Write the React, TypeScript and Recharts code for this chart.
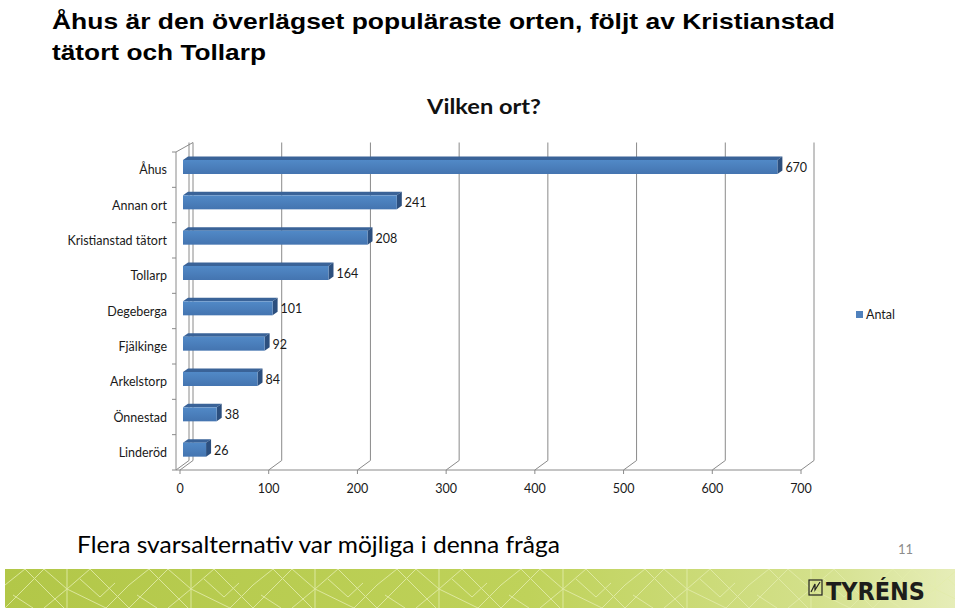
import React from 'react';
import { BarChart, Bar, XAxis, YAxis, CartesianGrid, LabelList, Legend } from 'recharts';

// ---- data ----
const categories = [
  'Åhus',
  'Annan ort',
  'Kristianstad tätort',
  'Tollarp',
  'Degeberga',
  'Fjälkinge',
  'Arkelstorp',
  'Önnestad',
  'Linderöd',
];
const antal = [670, 241, 208, 164, 101, 92, 84, 38, 26];
const xTicks = [0, 100, 200, 300, 400, 500, 600, 700];
const seriesName = 'Antal';

const titleLines = [
  'Åhus är den överlägset populäraste orten, följt av Kristianstad',
  'tätort och Tollarp',
];
const chartTitle = 'Vilken ort?';
const footnote = 'Flera svarsalternativ var möjliga i denna fråga';
const pageNumber = '11';
const brand = 'TYRÉNS';

const data = categories.map((name, i) => ({ name, [seriesName]: antal[i] }));

// ---- layout / style ----
const CHART_W = 960;
const CHART_H = 520;
const PLOT_TOP = 152;
const PLOT_BOTTOM = 470;
const PLOT_LEFT = 176;
const PLOT_RIGHT = 801;
const Y_AXIS_W = 170;
const X_AXIS_H = 30;
const X_PAD = 4;
const DEPTH_X = 13;
const DEPTH_Y = 9.5;
const BAND = (PLOT_BOTTOM - PLOT_TOP) / categories.length;
const GRID = '#8a8a8a';
const FONT = 'Lato, "Open Sans", sans-serif';
const TEXT = '#1a1a1a';
const BLUE = '#4F81BD';
const TICK_FS = 12.5;

const backWallLine = (props: any) => {
  const { x1, y1, y2, index } = props;
  return (
    <path
      key={`wall-${index}-${x1}`}
      d={`M${x1},${y2} L${x1 + DEPTH_X},${y2 - DEPTH_Y} L${x1 + DEPTH_X},${y1 - DEPTH_Y}`}
      fill="none"
      stroke={GRID}
      strokeWidth={1}
    />
  );
};

const Bar3D = (props: any) => {
  const { x, y, width, height } = props;
  if (width == null || height == null) return null;
  const fx = x + 3;
  const fy = y - 3;
  const fw = Math.max(width, 0);
  const fh = height;
  const dx = 5;
  const dy = 3.5;
  return (
    <g>
      <polygon
        points={`${fx},${fy} ${fx + fw},${fy} ${fx + fw + dx},${fy - dy} ${fx + dx},${fy - dy}`}
        fill="#3A6398"
      />
      <polygon
        points={`${fx + fw},${fy} ${fx + fw + dx},${fy - dy} ${fx + fw + dx},${fy + fh - dy} ${fx + fw},${fy + fh}`}
        fill="#2C4F7E"
      />
      <rect x={fx} y={fy} width={fw} height={fh} fill="url(#barFront)" />
    </g>
  );
};

const ValueLabel = (props: any) => {
  const vb = props.viewBox || {};
  const x = props.x ?? vb.x;
  const y = props.y ?? vb.y;
  const width = props.width ?? vb.width;
  const height = props.height ?? vb.height;
  return (
    <text
      x={x + width + 11}
      y={y + height / 2 - 2.5}
      dominantBaseline="central"
      textAnchor="start"
      fontFamily={FONT}
      fontSize={TICK_FS}
      fill={TEXT}
    >
      {props.value}
    </text>
  );
};

const CategoryTick = (props: any) => {
  const { x, y, payload, index } = props;
  const top = y - BAND / 2;
  const bottom = y + BAND / 2;
  return (
    <g>
      <line x1={PLOT_LEFT - 4} x2={PLOT_LEFT} y1={top} y2={top} stroke={GRID} />
      {index === categories.length - 1 && (
        <line x1={PLOT_LEFT - 4} x2={PLOT_LEFT} y1={bottom} y2={bottom} stroke={GRID} />
      )}
      {index === 0 && (
        <line
          x1={PLOT_LEFT}
          y1={top}
          x2={PLOT_LEFT + X_PAD + DEPTH_X}
          y2={top - DEPTH_Y}
          stroke={GRID}
        />
      )}
      <text
        x={x}
        y={y}
        textAnchor="end"
        dominantBaseline="central"
        fontFamily={FONT}
        fontSize={TICK_FS}
        fill={TEXT}
      >
        {payload.value}
      </text>
    </g>
  );
};

const ValueTick = (props: any) => {
  const { x, y, payload } = props;
  return (
    <text
      x={x}
      y={y + 14}
      textAnchor="middle"
      dominantBaseline="central"
      fontFamily={FONT}
      fontSize={TICK_FS}
      fill={TEXT}
    >
      {payload.value}
    </text>
  );
};

const LegendContent = () => (
  <div
    style={{
      display: 'flex',
      alignItems: 'center',
      fontFamily: FONT,
      fontSize: TICK_FS,
      color: TEXT,
      whiteSpace: 'nowrap',
      height: 16,
    }}
  >
    <span style={{ display: 'inline-block', width: 7, height: 7, background: BLUE, marginRight: 3 }} />
    <span>{seriesName}</span>
  </div>
);

const Banner = () => {
  const x0 = 5;
  const y0 = 569;
  const w = 950;
  const h = 39;
  return (
    <g>
      <defs>
        <linearGradient id="bannerGrad" x1="0" y1="0" x2="1" y2="0">
          <stop offset="0" stopColor="#b2c748" />
          <stop offset="0.55" stopColor="#bfd25a" />
          <stop offset="0.85" stopColor="#d3e08a" />
          <stop offset="1" stopColor="#e6edb8" />
        </linearGradient>
        <pattern id="bannerPat" x={x0} y={y0} width={124} height={h} patternUnits="userSpaceOnUse">
          <g stroke="#e3ecaa" strokeWidth={1} fill="none" opacity={0.85}>
            <path d={`M0,${h} L39,0`} />
            <path d={`M20,0 L59,${h}`} />
            <path d={`M39,0 L62,20 L39,${h}`} />
            <path d={`M62,0 L62,${h}`} />
            <path d={`M62,20 L85,0`} />
            <path d={`M62,20 L101,${h}`} />
            <path d={`M85,0 L124,${h}`} />
            <path d={`M101,${h} L124,16`} />
            <path d={`M0,16 L20,0`} />
            <path d={`M8,26 L28,${h}`} />
            <path d={`M75,10 L95,28 L110,14`} />
          </g>
        </pattern>
      </defs>
      <rect x={x0} y={y0} width={w} height={h} fill="url(#bannerGrad)" />
      <rect x={x0} y={y0} width={w} height={h} fill="url(#bannerPat)" />
      <g>
        <rect x={809} y={580} width={13} height={15} fill="none" stroke="#222" strokeWidth={1.2} />
        <path d="M811,592 L815,584 L815,590 L820,582" fill="none" stroke="#222" strokeWidth={1.2} />
        <text
          x={826}
          y={600}
          fontFamily='"DejaVu Sans", sans-serif'
          fontWeight={900}
          fontSize={25}
          fill="#1d1d1b"
          textLength={99}
          lengthAdjust="spacingAndGlyphs"
        >
          {brand}
        </text>
      </g>
    </g>
  );
};

export default function App() {
  return (
    <div
      style={{
        position: 'absolute',
        left: 0,
        top: 0,
        width: CHART_W,
        height: 610,
        background: '#ffffff',
        overflow: 'hidden',
      }}
    >
      <div style={{ position: 'absolute', left: 0, top: 0 }}>
        <BarChart
          width={CHART_W}
          height={CHART_H}
          data={data}
          layout="vertical"
          margin={{
            top: PLOT_TOP,
            left: PLOT_LEFT - Y_AXIS_W,
            right: CHART_W - PLOT_RIGHT,
            bottom: CHART_H - PLOT_BOTTOM - X_AXIS_H,
          }}
        >
          <defs>
            <linearGradient id="barFront" x1="0" y1="0" x2="0" y2="1">
              <stop offset="0" stopColor="#5189c7" />
              <stop offset="1" stopColor="#4474b0" />
            </linearGradient>
          </defs>
          <CartesianGrid horizontal={false} vertical={backWallLine} />
          <XAxis
            type="number"
            domain={[0, 700]}
            ticks={xTicks}
            interval={0}
            height={X_AXIS_H}
            padding={{ left: X_PAD, right: 0 }}
            axisLine={{ stroke: GRID }}
            tickLine={{ stroke: GRID }}
            tickSize={4}
            tickMargin={0}
            tick={ValueTick}
          />
          <YAxis
            type="category"
            dataKey="name"
            width={Y_AXIS_W}
            interval={0}
            axisLine={{ stroke: GRID }}
            tickLine={false}
            tickSize={0}
            tickMargin={9}
            tick={CategoryTick}
          />
          <Legend
            layout="horizontal"
            verticalAlign="middle"
            align="center"
            wrapperStyle={{ left: 856, top: 306, right: 'auto', bottom: 'auto', width: 60, height: 16 }}
            content={LegendContent}
          />
          <Bar
            dataKey={seriesName}
            name={seriesName}
            fill={BLUE}
            barSize={14}
            isAnimationActive={false}
            shape={Bar3D}
          >
            <LabelList dataKey={seriesName} content={ValueLabel} />
          </Bar>
        </BarChart>
      </div>
      <svg
        width={CHART_W}
        height={610}
        style={{ position: 'absolute', left: 0, top: 0, pointerEvents: 'none' }}
      >
        <text
          x={52}
          y={29}
          fontFamily='"Liberation Sans", Arial, sans-serif'
          fontWeight={700}
          fontSize={22}
          fill="#000"
          textLength={783}
          lengthAdjust="spacingAndGlyphs"
        >
          {titleLines[0]}
        </text>
        <text
          x={52}
          y={60}
          fontFamily='"Liberation Sans", Arial, sans-serif'
          fontWeight={700}
          fontSize={22}
          fill="#000"
          textLength={214}
          lengthAdjust="spacingAndGlyphs"
        >
          {titleLines[1]}
        </text>
        <text
          x={427}
          y={114}
          fontFamily={FONT}
          fontWeight={700}
          fontSize={20}
          fill="#111"
          textLength={114}
          lengthAdjust="spacingAndGlyphs"
        >
          {chartTitle}
        </text>
        <text
          x={77}
          y={553}
          fontFamily={FONT}
          fontSize={23}
          fill="#000"
          textLength={483}
          lengthAdjust="spacingAndGlyphs"
        >
          {footnote}
        </text>
        <text x={898} y={554} fontFamily={FONT} fontSize={13} fill="#8c8c8c">
          {pageNumber}
        </text>
        <Banner />
      </svg>
    </div>
  );
}
